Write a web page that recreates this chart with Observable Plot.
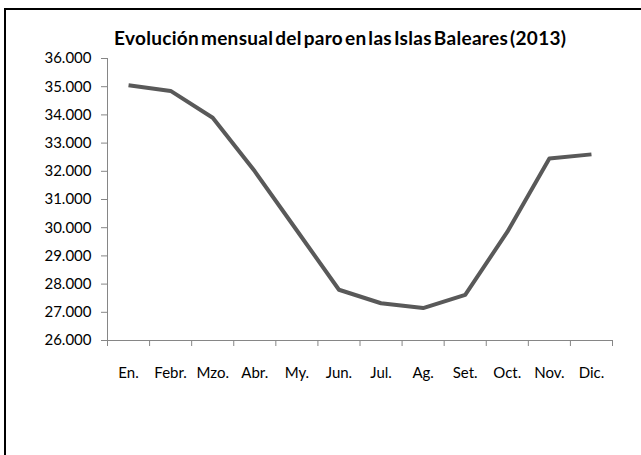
<!DOCTYPE html>
<html>
<head>
<meta charset="utf-8">
<script src="https://cdn.jsdelivr.net/npm/d3@7"></script>
<script src="https://cdn.jsdelivr.net/npm/@observablehq/plot@0.6"></script>
<style>
  html, body { margin: 0; padding: 0; background: #fff; }
  #wrap { position: relative; width: 641px; height: 455px; overflow: hidden; background: #fff; }
  #frame { position: absolute; left: 4px; top: 8px; width: 800px; height: 600px;
           border-left: 2px solid #000; border-top: 2px solid #000; box-sizing: border-box; }
  #chart { position: absolute; left: 0; top: 0; }
  #title { position: absolute; left: 114px; top: 28px; white-space: nowrap;
           font-family: Lato, sans-serif; font-weight: 700; font-size: 19px; line-height: 19px;
           word-spacing: -3px; color: #000; }
</style>
</head>
<body>
<div id="wrap">
  <div id="frame"></div>
  <div id="chart"></div>
  <div id="title"><span id="titletext">Evolución mensual del paro en las Islas Baleares (2013)</span></div>
</div>
<script>
const months = ["En.", "Febr.", "Mzo.", "Abr.", "My.", "Jun.", "Jul.", "Ag.", "Set.", "Oct.", "Nov.", "Dic."];
const paro = [35050, 34850, 33900, 32000, 29900, 27800, 27320, 27150, 27620, 29850, 32450, 32600];
const yTicks = [26000, 27000, 28000, 29000, 30000, 31000, 32000, 33000, 34000, 35000, 36000];

const data = months.map((m, i) => ({i, mes: m, valor: paro[i]}));
const fmt = d => d3.format(",")(d).replace(/,/g, ".");
const axisGray = "#868686";

const chart = Plot.plot({
  width: 641,
  height: 455,
  marginLeft: 107,
  marginRight: 29,
  marginTop: 58,
  marginBottom: 115,
  style: {fontFamily: "Lato, sans-serif", fontSize: "15px", color: "#000", background: "transparent", overflow: "visible"},
  x: {domain: [-0.5, months.length - 0.5]},
  y: {domain: [26000, 36000]},
  marks: [
    Plot.ruleX([-0.5], {stroke: axisGray}),
    Plot.ruleY([26000], {stroke: axisGray}),
    Plot.axisY(yTicks, {tickSize: 6, tickPadding: 10, tickFormat: fmt, stroke: axisGray, fill: "#000", label: null}),
    Plot.axisX(d3.range(months.length + 1).map(i => i - 0.5), {tickSize: 6, tickFormat: () => "", stroke: axisGray, label: null}),
    Plot.axisX(d3.range(months.length), {tickSize: 0, tickPadding: 27, tickFormat: i => months[i], fill: "#000", label: null}),
    Plot.line(data, {x: "i", y: "valor", stroke: "#595959", strokeWidth: 4, strokeLinejoin: "round", strokeLinecap: "butt"})
  ]
});
document.getElementById("chart").appendChild(chart);

// fit title to the reference width
const t = document.getElementById("titletext");
const target = 452;
const w0 = t.getBoundingClientRect().width;
const n = t.textContent.length - 1;
t.style.letterSpacing = ((target - w0) / n) + "px";
</script>
</body>
</html>
